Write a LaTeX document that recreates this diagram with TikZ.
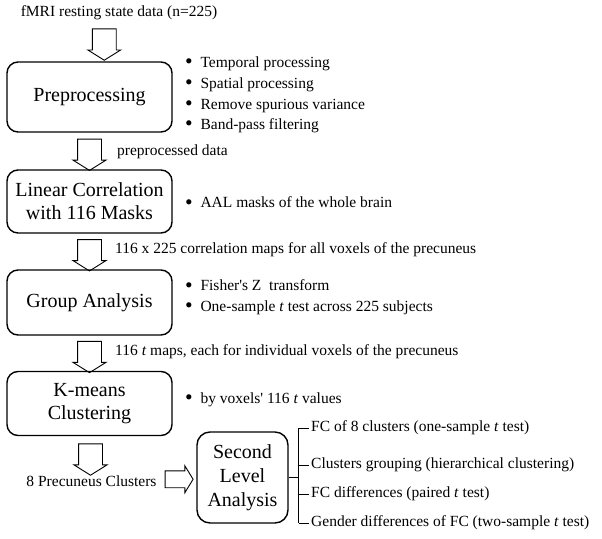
\documentclass[tikz,border=0pt]{standalone}
\usepackage{fontspec}
\setmainfont{Liberation Serif}
\usetikzlibrary{shapes.arrows,calc,positioning}

\newcommand{\blt}{\raisebox{-1.2pt}{\scalebox{1.4}{\textbullet}}\enspace}

\tikzset{
  stagebox/.style={draw, line width=1.4pt, rounded corners=11pt,
    minimum width=165pt, align=center, inner sep=3pt,
    font=\fontsize{20}{23}\selectfont},
  bodytext/.style={font=\fontsize{15.5}{20.7}\selectfont, inner sep=0pt},
  notelist/.style={bodytext, anchor=west, align=left},
  downarr/.style={draw, line width=0.9pt, single arrow, rotate=-90,
    minimum height=31pt, inner sep=11.5pt,
    single arrow head extend=4.5pt, single arrow tip angle=116},
  rightarr/.style={draw, line width=0.9pt, single arrow,
    minimum height=28pt, inner sep=8pt,
    single arrow head extend=5pt, single arrow tip angle=117},
  bracketline/.style={line width=0.8pt}
}

\begin{document}
\begin{tikzpicture}[x=1pt,y=-1pt]
\useasboundingbox (0,0) rectangle (602,538);

% main stages
\node[bodytext] (fmri) at (119,13) {fMRI resting state data (n=225)};
\node[stagebox, minimum height=70pt] (prep) at (89.5,97) {Preprocessing};
\node[stagebox, minimum height=63pt] (lin) at (89.5,201.5) {Linear Correlation\\with 116 Masks};
\node[stagebox, minimum height=65pt] (grp) at (89.5,302.5) {Group Analysis};
\node[stagebox, minimum height=64pt] (km) at (89.5,403.5) {K-means\\Clustering};
\node[bodytext] (prec) at (91.5,481) {8 Precuneus Clusters};
\node[stagebox, minimum width=91pt, minimum height=91pt, rounded corners=13pt,
  font=\fontsize{20}{24}\selectfont] (sla) at (242.5,477.5) {Second\\Level\\Analysis};

% notes beside the stages
\node[notelist] (prepnotes) at (185,95) {\blt Temporal processing\\
  \blt Spatial processing\\
  \blt Remove spurious variance\\
  \blt Band-pass filtering};
\node[notelist] (linnotes) at (185,203) {\blt AAL masks of the whole brain};
\node[notelist] (grpnotes) at (185,297.5) {\blt Fisher\textquotesingle s Z\ \ transform\\
  \blt One-sample \textit{t} test across 225 subjects};
\node[notelist] (kmnotes) at (185,400) {\blt by voxels\textquotesingle\ 116 \textit{t} values};

% block arrows
\node[downarr] (a1) at ($(fmri.south)!0.5!(prep.north)$) {};
\node[downarr] (a2) at ($(prep.south)!0.5!(lin.north)$) {};
\node[downarr] (a3) at ($(lin.south)!0.5!(grp.north)$) {};
\node[downarr] (a4) at ($(grp.south)!0.5!(km.north)$) {};
\node[downarr] (a5) at ($(km.south)!0.5!(prec.north)$) {};
\node[rightarr] (a6) at ($(prec.east)!0.5!(sla.west)$) {};

% arrow labels
\node[bodytext, anchor=west] (lab2) at (117,152) {preprocessed data};
\node[bodytext, anchor=west] (lab3) at (115,250) {116 x 225 correlation maps for all voxels of the precuneus};
\node[bodytext, anchor=west] (lab4) at (115,352) {116 \textit{t} maps, each for individual voxels of the precuneus};

% second level outputs
\node[bodytext, anchor=west] (fc1) at (311,428) {FC of 8 clusters (one-sample \textit{t} test)};
\node[bodytext, anchor=west] (fc2) at (311,465) {Clusters grouping (hierarchical clustering)};
\node[bodytext, anchor=west] (fc3) at (311,494) {FC differences (paired \textit{t} test)};
\node[bodytext, anchor=west] (fc4) at (311,523) {Gender differences of FC (two-sample \textit{t} test)};

\coordinate (brk) at ($(sla.east)+(10,0)$);
\draw[bracketline] (sla.east) -- (brk);
\draw[bracketline] (brk |- fc1.west) -- (brk |- fc4.west);
\foreach \n in {fc1,fc2,fc3,fc4}
  \draw[bracketline] (brk |- \n.west) -- ([xshift=-2pt]\n.west);
\end{tikzpicture}
\end{document}
